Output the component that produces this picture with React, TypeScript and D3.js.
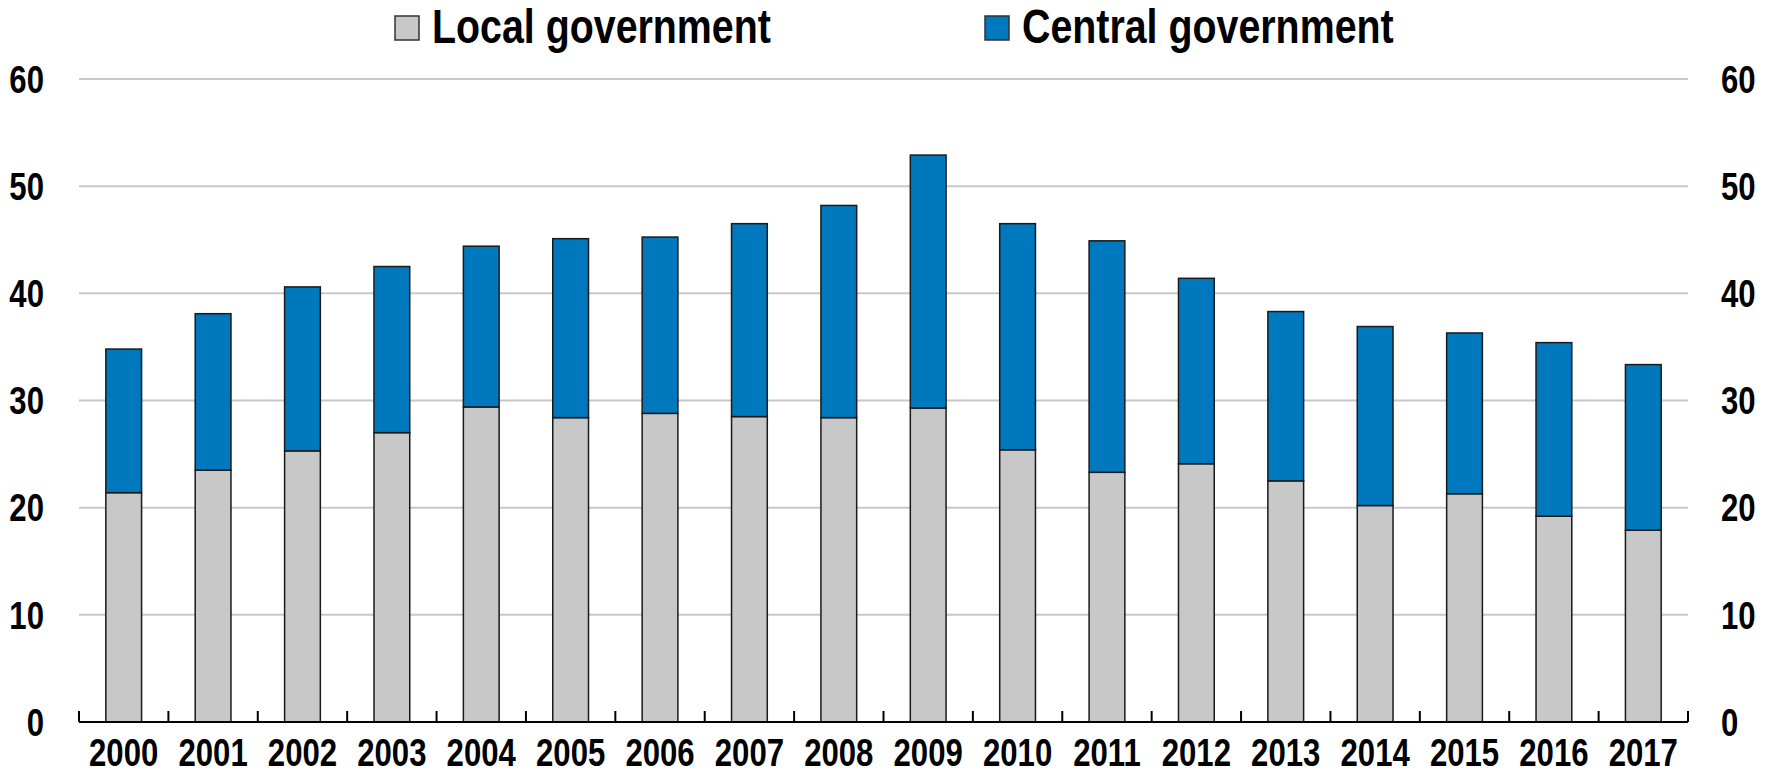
import React from "react";
import * as d3 from "d3";

const years = ["2000","2001","2002","2003","2004","2005","2006","2007","2008","2009","2010","2011","2012","2013","2014","2015","2016","2017"];
const localGov = [21.4,23.5,25.3,27.0,29.4,28.4,28.8,28.5,28.4,29.3,25.4,23.3,24.1,22.5,20.2,21.3,19.2,17.9];
const totalGov = [34.8,38.1,40.6,42.5,44.4,45.1,45.25,46.5,48.2,52.9,46.5,44.9,41.4,38.3,36.9,36.3,35.4,33.35];
const centralGov = totalGov.map((t, i) => +(t - localGov[i]).toFixed(2));
const yTicks = [0,10,20,30,40,50,60];
const seriesNames = ["Local government", "Central government"];
const seriesColors = ["#C8C8C8", "#0078BE"];

const W = 1769, H = 775;
const left = 79, right = 1688, top = 79, bottom = 722;
const FONT = "'Liberation Sans', Arial, sans-serif";
const SX = 0.82;

function NText({ x, y, anchor = "start", size, children, dy }: any) {
  return (
    <g transform={`translate(${x},${y}) scale(${SX},1)`}>
      <text x={0} y={0} dy={dy} textAnchor={anchor} fontFamily={FONT} fontWeight="bold" fontSize={size} fill="#000">{children}</text>
    </g>
  );
}

export default function App() {
  const x = d3.scaleBand<string>().domain(years).range([left, right]).paddingInner(0.6).paddingOuter(0.3);
  const y = d3.scaleLinear().domain([0, 60]).range([bottom, top]);
  const stackData = years.map((yr, i) => ({ year: yr, local: localGov[i], central: centralGov[i] }));
  const stack = d3.stack<any>().keys(["local", "central"])(stackData);
  const step = x.step();
  const tickXs = d3.range(years.length + 1).map(i => left + i * step);

  return (
    <svg width={W} height={H} style={{ position: "absolute", left: 0, top: 0, background: "#fff" }}>
      {yTicks.filter(t => t > 0).map(t => (
        <line key={"g" + t} x1={left} x2={right} y1={y(t)} y2={y(t)} stroke="#C8C8C8" strokeWidth={2} />
      ))}
      {stack.map((s, si) => (
        <g key={si}>
          {s.map((d, i) => (
            <rect key={i} x={x(years[i])} width={x.bandwidth()} y={y(d[1])} height={y(d[0]) - y(d[1])}
              fill={seriesColors[si]} stroke="#1a1a1a" strokeWidth={1.5} />
          ))}
        </g>
      ))}
      <line x1={left} x2={right} y1={bottom} y2={bottom} stroke="#000" strokeWidth={2} />
      {tickXs.map((tx, i) => (
        <line key={"t" + i} x1={tx} x2={tx} y1={bottom} y2={bottom - 11} stroke="#000" strokeWidth={2} />
      ))}
      {yTicks.map(t => (
        <g key={"yl" + t}>
          <NText x={44} y={y(t)} dy="0.36em" anchor="end" size={38}>{t}</NText>
          <NText x={1721} y={y(t)} dy="0.36em" anchor="start" size={38}>{t}</NText>
        </g>
      ))}
      {years.map(yr => (
        <NText key={yr} x={(x(yr) as number) + x.bandwidth() / 2} y={766} anchor="middle" size={38}>{yr}</NText>
      ))}
      {seriesNames.map((n, i) => {
        const lx = [395, 985][i];
        return (
          <g key={n}>
            <rect x={lx} y={16} width={24} height={24} fill={seriesColors[i]} stroke="#333" strokeWidth={1.5} />
            <NText x={lx + 37} y={43} size={48}>{n}</NText>
          </g>
        );
      })}
    </svg>
  );
}
